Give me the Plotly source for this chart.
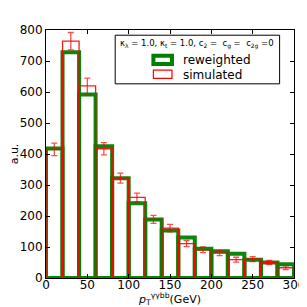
import plotly.graph_objects as go

bin_edges = [0, 20, 40, 60, 80, 100, 120, 140, 160, 180, 200, 220, 240, 260, 280, 300]
reweighted = [418, 728, 592, 425, 322, 241, 189, 153, 131, 94, 86, 78, 59, 50, 44]
simulated = [415, 764, 620, 417, 322, 260, 189, 161, 111, 91, 80, 59, 61, 50, 33]
sim_err = [20, 28, 25, 20, 16, 14, 13, 12, 10, 9, 8, 8, 8, 7, 6]

centers = [(a + b) / 2 for a, b in zip(bin_edges[:-1], bin_edges[1:])]
widths = [b - a for a, b in zip(bin_edges[:-1], bin_edges[1:])]

fig = go.Figure()
fig.add_trace(go.Bar(
    x=centers, y=reweighted, width=widths, name="reweighted",
    marker=dict(color="rgba(0,0,0,0)", line=dict(color="rgba(0,128,0,0.95)", width=4)),
    showlegend=False,
))
fig.add_trace(go.Bar(
    x=centers, y=simulated, width=widths, name="simulated",
    marker=dict(color="rgba(0,0,0,0)", line=dict(color="rgba(255,0,0,0.9)", width=1.3)),
    error_y=dict(type="data", array=sim_err, color="rgba(255,0,0,0.7)", thickness=1.3, width=3),
    showlegend=False,
))

font = dict(family="DejaVu Sans", size=12, color="black")
fig.update_layout(
    width=299, height=299,
    margin=dict(l=38, r=13, t=22, b=29),
    paper_bgcolor="white", plot_bgcolor="white",
    barmode="overlay",
    font=font,
    xaxis=dict(range=[0, 300], tickvals=[0, 50, 100, 150, 200, 250, 300], automargin=False,
               ticks="inside", ticklen=4, tickcolor="black", showgrid=False, zeroline=False,
               showline=True, linecolor="black", linewidth=1, mirror="allticks",
               ticklabelstandoff=-4,
               title=dict(text="<i>p</i><sub>T</sub><sup>γγbb</sup>(GeV)", standoff=0,
                          font=dict(family="DejaVu Sans", size=11))),
    yaxis=dict(range=[0, 800], tickvals=[0, 100, 200, 300, 400, 500, 600, 700, 800], automargin=False,
               ticks="inside", ticklen=4, tickcolor="black", showgrid=False, zeroline=False,
               showline=True, linecolor="black", linewidth=1, mirror="allticks",
               title=dict(text="a.u.", standoff=4, font=dict(family="DejaVu Sans", size=11))),
)

# manual legend box (matplotlib-style)
fig.add_shape(type="rect", xref="paper", yref="paper", x0=0.279, x1=0.942, y0=0.783, y1=0.979,
              line=dict(color="black", width=1), fillcolor="white", layer="above")
fig.add_shape(type="rect", xref="paper", yref="paper", x0=0.433, x1=0.508, y0=0.863, y1=0.896,
              line=dict(color="green", width=4), fillcolor="white", layer="above")
fig.add_shape(type="rect", xref="paper", yref="paper", x0=0.433, x1=0.508, y0=0.805, y1=0.838,
              line=dict(color="red", width=1.2), fillcolor="white", layer="above")
fig.add_annotation(xref="paper", yref="paper", x=0.61, y=0.945, xanchor="center", yanchor="middle",
                   text="κ<sub>λ</sub> = 1.0, κ<sub>t</sub> = 1.0, c<sub>2</sub> =  c<sub>g</sub> =  c<sub>2g</sub> =0",
                   showarrow=False, font=dict(family="DejaVu Sans", size=8.5))
fig.add_annotation(xref="paper", yref="paper", x=0.545, y=0.88, xanchor="left", yanchor="middle",
                   text="reweighted", showarrow=False, font=dict(family="DejaVu Sans", size=12))
fig.add_annotation(xref="paper", yref="paper", x=0.545, y=0.82, xanchor="left", yanchor="middle",
                   text="simulated", showarrow=False, font=dict(family="DejaVu Sans", size=12))

fig.write_html("out.html")
